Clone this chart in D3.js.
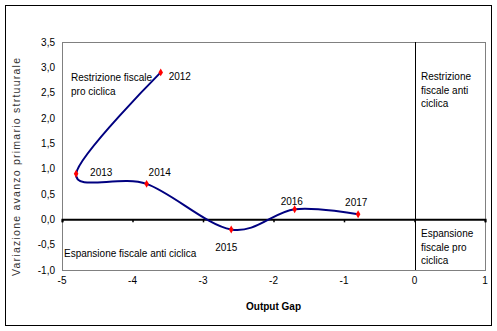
<!DOCTYPE html>
<html><head><meta charset="utf-8">
<script src="https://cdn.jsdelivr.net/npm/d3@7"></script>
<style>
html,body{margin:0;padding:0;background:#fff;}
svg{display:block;font-family:"Liberation Sans",Arial,sans-serif;}
</style></head>
<body>
<svg id="c" width="497" height="331"></svg>
<script>
const years = ["2012","2013","2014","2015","2016","2017"];
const outputGap = [-3.6, -4.8, -3.8, -2.6, -1.7, -0.8];
const variazione = [2.9, 0.9, 0.7, -0.2, 0.2, 0.1];
const xTicks = [-5,-4,-3,-2,-1,0,1];
const yTicks = [-1,-0.5,0,0.5,1,1.5,2,2.5,3,3.5];
const quadrantLabels = [
  {lines:["Restrizione fiscale","pro ciclica"], q:"tl"},
  {lines:["Restrizione","fiscale anti","ciclica"], q:"tr"},
  {lines:["Espansione fiscale anti ciclica"], q:"bl"},
  {lines:["Espansione","fiscale pro","ciclica"], q:"br"}
];
const xTitle = "Output Gap";
const yTitle = "Variazione avanzo primario strtuurale";

const svg = d3.select("#c");
const m = {l:62, r:485, t:42, b:270};
const x = d3.scaleLinear().domain([-5,1]).range([m.l, m.r]);
const y = d3.scaleLinear().domain([-1,3.5]).range([m.b, m.t]);
const fmt = v => d3.format(".1f")(v).replace(".", ",").replace("\u2212", "-");

// outer border
svg.append("rect").attr("x",5.5).attr("y",5.5).attr("width",486).attr("height",320)
  .attr("fill","#fff").attr("stroke","#000").attr("stroke-width",1);
// plot area border
svg.append("rect").attr("x",m.l+0.5).attr("y",m.t+0.5).attr("width",m.r-m.l).attr("height",m.b-m.t)
  .attr("fill","none").attr("stroke","#808080").attr("stroke-width",1);

// y tick labels
svg.append("g").selectAll("text").data(yTicks).join("text")
  .attr("x",55).attr("y",d=>y(d)+3.5).attr("text-anchor","end")
  .attr("font-size",10).attr("fill","#000").text(d=>fmt(d));
// x tick labels
svg.append("g").selectAll("text").data(xTicks).join("text")
  .attr("x",d=>x(d)).attr("y",284).attr("text-anchor","middle")
  .attr("font-size",10).attr("fill","#000").text(d=>String(d));

// vertical zero line
svg.append("line").attr("x1",Math.round(x(0))+0.5).attr("x2",Math.round(x(0))+0.5)
  .attr("y1",m.t).attr("y2",m.b).attr("stroke","#000").attr("stroke-width",1);
// horizontal zero axis
const xAxis = d3.axisBottom(x).tickValues(xTicks).tickSize(3).tickFormat("");
const gx = svg.append("g").attr("transform",`translate(0,${y(0)})`).call(xAxis);
gx.select(".domain").attr("stroke","#000").attr("stroke-width",2);
gx.selectAll(".tick line").attr("stroke","#000").attr("stroke-width",1.5);

// titles
svg.append("text").attr("x",(m.l+m.r)/2).attr("y",310).attr("text-anchor","middle")
  .attr("font-size",10).attr("font-weight","bold").attr("fill","#000").text(xTitle);
svg.append("text").attr("transform",`translate(20,167) rotate(-90)`)
  .attr("text-anchor","middle").attr("font-size",10.5).attr("fill","#333")
  .attr("textLength",218).attr("lengthAdjust","spacing").text(yTitle);

// quadrant labels
const qpos = {tl:[71,81], tr:[421,80], bl:[64,257], br:[421,237]};
quadrantLabels.forEach(q=>{
  const t = svg.append("text").attr("font-size",10).attr("fill","#000");
  q.lines.forEach((ln,i)=>{
    t.append("tspan").attr("x",qpos[q.q][0]).attr("y",qpos[q.q][1]+i*13.5).text(ln);
  });
});

// series
const pts = years.map((yr,i)=>({year:yr, gx:outputGap[i], v:variazione[i]}));
const line = d3.line().x(d=>x(d.gx)).y(d=>y(d.v)).curve(d3.curveCatmullRom.alpha(0));
svg.append("path").datum(pts).attr("d",line).attr("fill","none")
  .attr("stroke","#000080").attr("stroke-width",2);
svg.append("g").selectAll("path").data(pts).join("path")
  .attr("transform",d=>`translate(${x(d.gx)},${y(d.v)})`)
  .attr("d",d3.symbol(d3.symbolDiamond,18)).attr("fill","#ff0000");

// point labels
const off = {"2012":[8,8],"2013":[14,2],"2014":[2,-8],"2015":[-16,22],"2016":[-14,-4],"2017":[-13,-8]};
svg.append("g").selectAll("text").data(pts).join("text")
  .attr("x",d=>x(d.gx)+off[d.year][0]).attr("y",d=>y(d.v)+off[d.year][1])
  .attr("font-size",10).attr("fill","#000").text(d=>d.year);
</script>
</body></html>
